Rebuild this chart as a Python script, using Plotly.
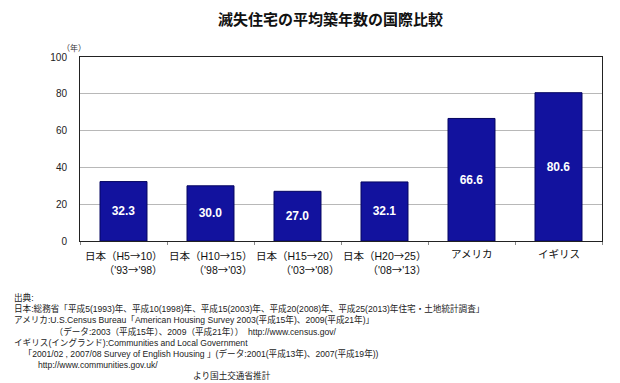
import plotly.graph_objects as go

categories = ["日本（H5→10）", "日本（H10→15）", "日本（H15→20）", "日本（H20→25）", "アメリカ", "イギリス"]
sub_labels = ["（'93→'98）", "（'98→'03）", "（'03→'08）", "（'08→'13）", "", ""]
values = [32.3, 30.0, 27.0, 32.1, 66.6, 80.6]
y_ticks = [0, 20, 40, 60, 80, 100]

title_text = "滅失住宅の平均築年数の国際比較"
unit_text = "（年）"
notes = [
    "出典:",
    "日本:総務省「平成5(1993)年、平成10(1998)年、平成15(2003)年、平成20(2008)年、平成25(2013)年住宅・土地統計調査」",
    "アメリカ:U.S.Census Bureau「American Housing Survey 2003(平成15年)、2009(平成21年)」",
    "（データ:2003（平成15年）、2009（平成21年））  http://www.census.gov/",
    "イギリス(イングランド):Communities and Local Government",
    "「2001/02 , 2007/08 Survey of English Housing 」(データ:2001(平成13年)、2007(平成19年))",
    "http://www.communities.gov.uk/",
    "より国土交通省推計",
]
note_indent = [0, 0, 0, 17, 0, 4, 10, 75]  # in no-break spaces

OFF = 8
W, H = 620 - OFF, 383 - OFF
X0, X1, Y0, Y1 = 80, 602, 57, 241
L, T = X0 - OFF, Y0 - OFF
R, B = (W + OFF) - X1, (H + OFF) - Y1
PW, PH = X1 - X0, Y1 - Y0

FONT = "Liberation Sans, Noto Sans CJK JP, sans-serif"
JFONT = "Noto Sans CJK JP, Liberation Sans, sans-serif"

def px_x(px):
    return (px - X0) / PW

def px_y(py):
    return (Y1 - py) / PH

def arrows(s):
    return s.replace("→", "<span style=\"font-family:'Noto Sans CJK JP'\">→</span>")

fig = go.Figure()
fig.add_trace(go.Bar(
    x=categories, y=values,
    width=0.54,
    marker=dict(color="#12129e", line=dict(color="#050560", width=1)),
    text=[f"<b>{v:.1f}</b>" for v in values],
    textposition="inside", insidetextanchor="middle",
    textfont=dict(color="white", size=12, family="Liberation Sans, Arial, sans-serif"),
    hoverinfo="skip",
))

annotations = []
for c, s in zip(categories, sub_labels):
    txt = arrows(c) if not s else f"{arrows(c)}<br>{arrows(s)}"
    annotations.append(dict(
        x=c, xref="x", y=0, yref="paper", yshift=-5,
        xanchor="center", yanchor="top", align="right",
        text=txt, showarrow=False,
        font=dict(size=10.5, color="#111", family=FONT),
    ))

annotations.append(dict(
    x=px_x(330), xref="paper", y=px_y(18), yref="paper",
    xanchor="center", yanchor="middle",
    text=f"<b>{title_text}</b>", showarrow=False,
    font=dict(size=15, color="#111", family=JFONT),
))
annotations.append(dict(
    x=px_x(74), xref="paper", y=px_y(47), yref="paper",
    xanchor="center", yanchor="middle",
    text=unit_text, showarrow=False,
    font=dict(size=8, color="#333", family=JFONT),
))

note_text = "<br>".join("\u00a0" * n + t for t, n in zip(notes, note_indent))
annotations.append(dict(
    x=px_x(12), xref="paper", y=px_y(290), yref="paper",
    xanchor="left", yanchor="top", align="left",
    text=note_text, showarrow=False,
    font=dict(size=8.6, color="#222", family=FONT),
))

fig.update_layout(
    width=W, height=H,
    margin=dict(l=L, r=R, t=T, b=B, pad=0),
    paper_bgcolor="white", plot_bgcolor="white",
    showlegend=False,
    font=dict(family=FONT, size=10, color="#222"),
    annotations=annotations,
    xaxis=dict(
        type="category", showticklabels=False,
        showline=True, linecolor="#222", linewidth=1, mirror=True,
        ticks="outside", tickson="boundaries", ticklen=3, tickcolor="#888",
        showgrid=False, fixedrange=True,
    ),
    yaxis=dict(
        range=[0, 100], tickvals=y_ticks,
        showline=True, linecolor="#222", linewidth=1, mirror=True,
        showgrid=True, gridcolor="#b8b8b8", gridwidth=1,
        ticks="", ticklabelstandoff=10,
        tickfont=dict(size=10, color="#222", family=FONT),
        zeroline=False, fixedrange=True,
    ),
)

fig.write_html("out.html")
